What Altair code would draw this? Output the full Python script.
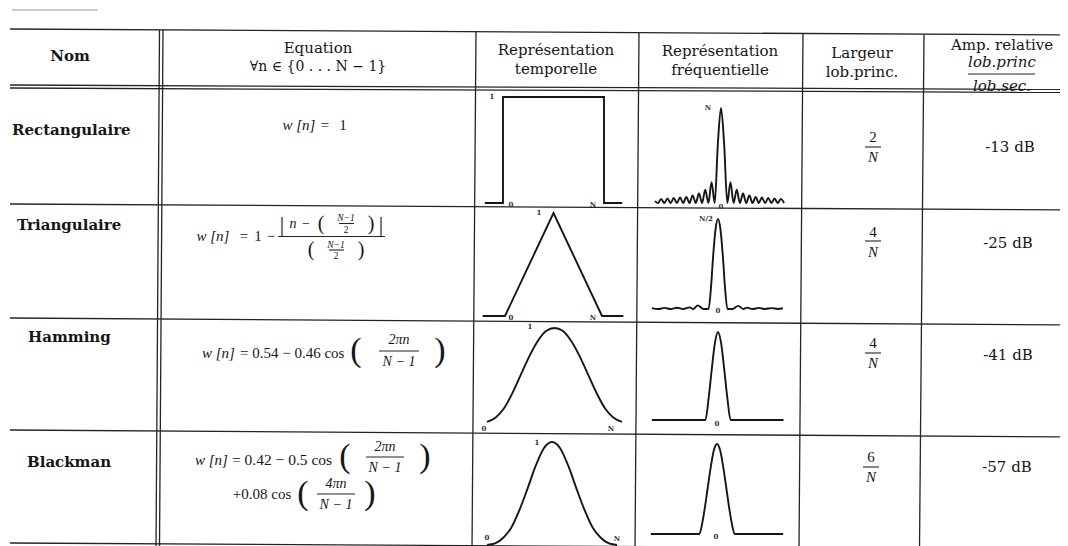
import altair as alt
import pandas as pd

# ------------------------------------------------------------------
# Values
# ------------------------------------------------------------------
WINDOWS = ["Rectangulaire", "Triangulaire", "Hamming", "Blackman"]
HEADERS = ["Nom", "Equation", "∀n ∈ {0 . . . N − 1}",
           "Représentation", "temporelle", "Représentation", "fréquentielle",
           "Largeur", "lob.princ.", "Amp. relative"]
LOBE_NUM = ["2", "4", "4", "6"]
REL_AMP = ["-13 dB", "-25 dB", "-41 dB", "-57 dB"]

# time representation : n/N and w[n]
RECT_T_N = [-0.18, 0, 0, 1, 1, 1.18]
RECT_T_W = [0, 0, 1, 1, 0, 0]
TRI_T_N = [-0.23, 0, 0.5, 1, 1.22]
TRI_T_W = [0, 0, 1, 0, 0]
BELL_T_N = [0, 0.0625, 0.125, 0.1875, 0.25, 0.3125, 0.375, 0.4375, 0.5,
            0.5625, 0.625, 0.6875, 0.75, 0.8125, 0.875, 0.9375, 1]
HAM_T_W = [0.08, 0.12, 0.21, 0.36, 0.54, 0.72, 0.87, 0.97, 1.0,
           0.97, 0.87, 0.72, 0.54, 0.36, 0.21, 0.12, 0.08]
BLK_T_W = [0.0, 0.015, 0.07, 0.17, 0.34, 0.55, 0.77, 0.94, 1.0,
           0.94, 0.77, 0.55, 0.34, 0.17, 0.07, 0.015, 0.0]

# frequency representation : bin k and |W| (normalised)
RECT_F_K = [-10.5, -10, -9.5, -9, -8.5, -8, -7.5, -7, -6.5, -6, -5.5, -5, -4.5, -4,
            -3.5, -3, -2.5, -2, -1.5, -1, -0.5, 0, 0.5, 1, 1.5, 2, 2.5, 3, 3.5, 4,
            4.5, 5, 5.5, 6, 6.5, 7, 7.5, 8, 8.5, 9, 9.5, 10]
RECT_F_A = [0.02, 0, 0.043, 0, 0.047, 0, 0.052, 0, 0.058, 0, 0.065, 0, 0.08, 0,
            0.1, 0, 0.14, 0, 0.22, 0, 0.62, 1.0, 0.62, 0, 0.22, 0, 0.14, 0, 0.1, 0,
            0.08, 0, 0.065, 0, 0.058, 0, 0.052, 0, 0.047, 0, 0.043, 0]
TRI_F_K = [-10.5, -9.5, -8.5, -7.5, -6.5, -5.5, -4.5, -3.9, -3.2, -2.3, -1.5, -1.1,
           -0.8, -0.4, 0, 0.4, 0.8, 1.1, 1.5, 2.3, 3.2, 4.0, 4.6, 5.5, 6.5, 7.5,
           8.5, 9.5, 10.3]
TRI_F_A = [0.01, 0, 0.012, 0, 0.014, 0, 0.018, 0, 0.04, 0, 0, 0.25,
           0.56, 0.88, 1.0, 0.88, 0.56, 0.25, 0, 0, 0.035, 0, 0.015, 0, 0.012, 0,
           0.01, 0, 0.008]
HAM_F_K = [-10.5, -2, -1.5, -1, -0.5, 0, 0.5, 1, 1.5, 2, 10.4]
HAM_F_A = [0, 0, 0.24, 0.57, 0.87, 1.0, 0.87, 0.57, 0.24, 0, 0]
BLK_F_K = [-10.5, -2.8, -2.4, -2, -1.5, -1, -0.5, 0, 0.5, 1, 1.5, 2, 2.4, 2.8, 10.5]
BLK_F_A = [0, 0, 0.1, 0.26, 0.5, 0.74, 0.93, 1.0, 0.93, 0.74, 0.5, 0.26, 0.1, 0, 0]

# ------------------------------------------------------------------
# Layout (page pixels) and styles
# ------------------------------------------------------------------
PW, PH, M = 1068, 546, 8
DV, LS = "DejaVu Serif", "Liberation Serif"
INK, LINE = "#161616", "#242424"


def page_scales(xf, yf):
    return dict(
        x=alt.X(f"{xf}:Q", scale=alt.Scale(domain=[0, PW], range=[-M, PW - M], nice=False, zero=False), axis=None),
        y=alt.Y(f"{yf}:Q", scale=alt.Scale(domain=[0, PH], range=[-M, PH - M], nice=False, zero=False), axis=None),
    )


def rules(rows, width=1.3, color=LINE):
    df = pd.DataFrame(rows, columns=["x", "y", "x2", "y2"])
    return alt.Chart(df).mark_rule(color=color, strokeWidth=width).encode(
        **page_scales("x", "y"), x2="x2:Q", y2="y2:Q")


def texts(rows, font=DV, weight="normal", style="normal", align="center", color=INK):
    df = pd.DataFrame(rows, columns=["t", "x", "y", "fs"])
    return alt.Chart(df).mark_text(font=font, fontWeight=weight, fontStyle=style, align=align,
                                   baseline="middle", color=color).encode(
        **page_scales("x", "y"), text="t:N", size=alt.Size("fs:Q", scale=None, legend=None))


def curve(xs, ys, xdom, xr, yr, interp):
    df = pd.DataFrame({"u": xs, "v": ys, "o": list(range(len(xs)))})
    return alt.Chart(df).mark_line(interpolate=interp, color="#161616", strokeWidth=1.9,
                                   strokeJoin="miter").encode(
        x=alt.X("u:Q", scale=alt.Scale(domain=xdom, range=[xr[0] - M, xr[1] - M], nice=False, zero=False), axis=None),
        y=alt.Y("v:Q", scale=alt.Scale(domain=[0, 1], range=[yr[0] - M, yr[1] - M], nice=False, zero=False), axis=None),
        order="o:Q")


layers = []

# ---- table grid (slightly tilted scan) ----
layers.append(rules([
    (10, 29, 1068, 35), (10, 85, 1068, 89.5), (10, 88, 1068, 92.5),
    (10, 204, 1068, 210), (10, 318, 1068, 325), (10, 430, 1068, 437), (10, 543, 1068, 549),
    (159.5, 30, 156, 549), (163, 30, 159.5, 549), (476, 31.6, 472, 549),
    (639, 32.6, 635, 549), (803, 33.5, 799, 549), (924, 34.2, 919.5, 549),
]))
layers.append(rules([(12, 10, 98, 10)], width=1.2, color="#9a9a9a"))

# ---- header ----
layers.append(texts([(HEADERS[0], 70, 56, 15)], weight="bold"))
layers.append(texts([
    (HEADERS[1], 318, 48, 15), (HEADERS[2], 318, 67, 14),
    (HEADERS[3], 556, 50, 15), (HEADERS[4], 556, 69, 15),
    (HEADERS[5], 720, 51, 15), (HEADERS[6], 720, 70, 15),
    (HEADERS[7], 862, 53, 15), (HEADERS[8], 862, 72, 15),
    (HEADERS[9], 1002, 45, 15),
]))
layers.append(texts([("lob.princ", 1002, 62, 15), ("lob.sec.", 1002, 86, 15)], style="italic"))

# ---- window names ----
layers.append(texts([(WINDOWS[0], 12, 130, 15), (WINDOWS[1], 17, 225, 15),
                     (WINDOWS[2], 28, 337, 15), (WINDOWS[3], 27, 462, 15)],
                    weight="bold", align="left"))

# ---- equations ----
layers.append(texts([
    ("w [n]", 299, 125, 15), ("w [n]", 213, 236, 15), ("n", 293, 224, 14),
    ("N−1", 346, 218, 9.5), ("N−1", 336, 244.5, 9.5),
    ("2πn", 399, 340, 14), ("N − 1", 399, 362, 14),
    ("2πn", 385, 447, 14), ("N − 1", 385, 468, 14),
    ("4πn", 336, 484, 14), ("N − 1", 336, 505, 14),
    ("N", 873, 157, 15), ("N", 873, 252, 15), ("N", 873, 363, 15), ("N", 871, 477, 15),
], font=LS, style="italic"))
layers.append(texts([("w [n]", 202, 353, 15), ("w [n]", 195, 460, 15)],
                    font=LS, style="italic", align="left"))
layers.append(texts([
    ("=", 325, 125, 15), ("1", 343, 125, 15),
    ("=", 244, 236, 15), ("1", 258, 236, 15), ("−", 271, 236, 15),
    ("−", 306, 224, 14), ("2", 346, 229.5, 9.5), ("2", 336, 256, 9.5),
    ("+0.08 cos", 262, 494, 15),
    (LOBE_NUM[0], 873, 137, 15), (LOBE_NUM[1], 873, 232, 15),
    (LOBE_NUM[2], 873, 343, 15), (LOBE_NUM[3], 871, 457, 15),
], font=LS))
layers.append(texts([("= 0.54 − 0.46 cos", 240, 353, 15), ("= 0.42 − 0.5 cos", 232, 460, 15.5)],
                    font=LS, align="left"))
layers.append(texts([
    ("|", 282, 224, 22), ("|", 381, 224, 22), ("(", 321, 224, 20), (")", 371, 224, 20),
    ("(", 311, 250, 20), (")", 361, 250, 20),
    ("(", 356, 351, 34), (")", 440, 351, 34),
    ("(", 345, 457, 34), (")", 425, 457, 34),
    ("(", 303, 494, 34), (")", 370, 494, 34),
], font=LS))
layers.append(rules([
    (278, 236.5, 385, 236.5), (339, 223.5, 354, 223.5), (329, 250, 344, 250),
    (379, 351, 419, 351), (366, 457, 404, 457), (317, 494, 355, 494),
    (865, 147, 881, 147), (865, 241, 881, 241), (865, 353, 881, 353), (863, 467, 879, 467),
    (968, 74, 1035, 74),
], width=1.1, color="#222"))

# ---- relative amplitude ----
layers.append(texts([(REL_AMP[0], 1010, 147, 15), (REL_AMP[1], 1008, 243, 15),
                     (REL_AMP[2], 1008, 355, 15), (REL_AMP[3], 1007, 467, 15)]))

# ---- time representations ----
layers.append(curve(RECT_T_N, RECT_T_W, [0, 1], (503, 604), (203, 97), "linear"))
layers.append(curve(TRI_T_N, TRI_T_W, [0, 1], (505, 602), (316, 213), "linear"))
layers.append(curve(BELL_T_N, HAM_T_W, [0, 1], (487, 622), (430, 328), "monotone"))
layers.append(curve(BELL_T_N, BLK_T_W, [0, 1], (487, 617), (545, 442), "monotone"))

# ---- frequency representations ----
layers.append(curve(RECT_F_K, RECT_F_A, [-10, 10], (721 - 63, 721 + 63), (203, 108), "monotone"))
layers.append(curve(TRI_F_K, TRI_F_A, [-10, 10], (718 - 63, 718 + 63), (309, 219), "monotone"))
layers.append(curve(HAM_F_K, HAM_F_A, [-10, 10], (718 - 63, 718 + 63), (420, 332), "monotone"))
layers.append(curve(BLK_F_K, BLK_F_A, [-10, 10], (717 - 63, 717 + 63), (534, 444), "monotone"))

# ---- small axis marks inside the plots ----
layers.append(texts([
    ("1", 492, 97, 7), ("0", 511, 205, 7), ("N", 593, 205, 7),
    ("1", 539, 213, 7), ("0", 511, 318, 7), ("N", 593, 318, 7),
    ("1", 530, 327, 7), ("0", 484, 429, 7), ("N", 611, 429, 7),
    ("1", 537, 443, 7), ("0", 487, 538, 7), ("N", 617, 539, 7),
    ("N", 708, 108, 7), ("0", 721, 207, 7), ("N/2", 706, 219, 7), ("0", 718, 311, 7),
    ("0", 717, 424, 7), ("0", 716, 537, 7),
], weight="bold", color="#333"))

chart = alt.layer(*layers).resolve_scale(x="independent", y="independent").properties(
    width=PW - 2 * M, height=PH - M, padding=0, background="white",
    autosize=alt.AutoSizeParams(type="none"),
).configure_view(stroke=None)

chart.save("out.html", embed_options={"renderer": "svg", "actions": False})
